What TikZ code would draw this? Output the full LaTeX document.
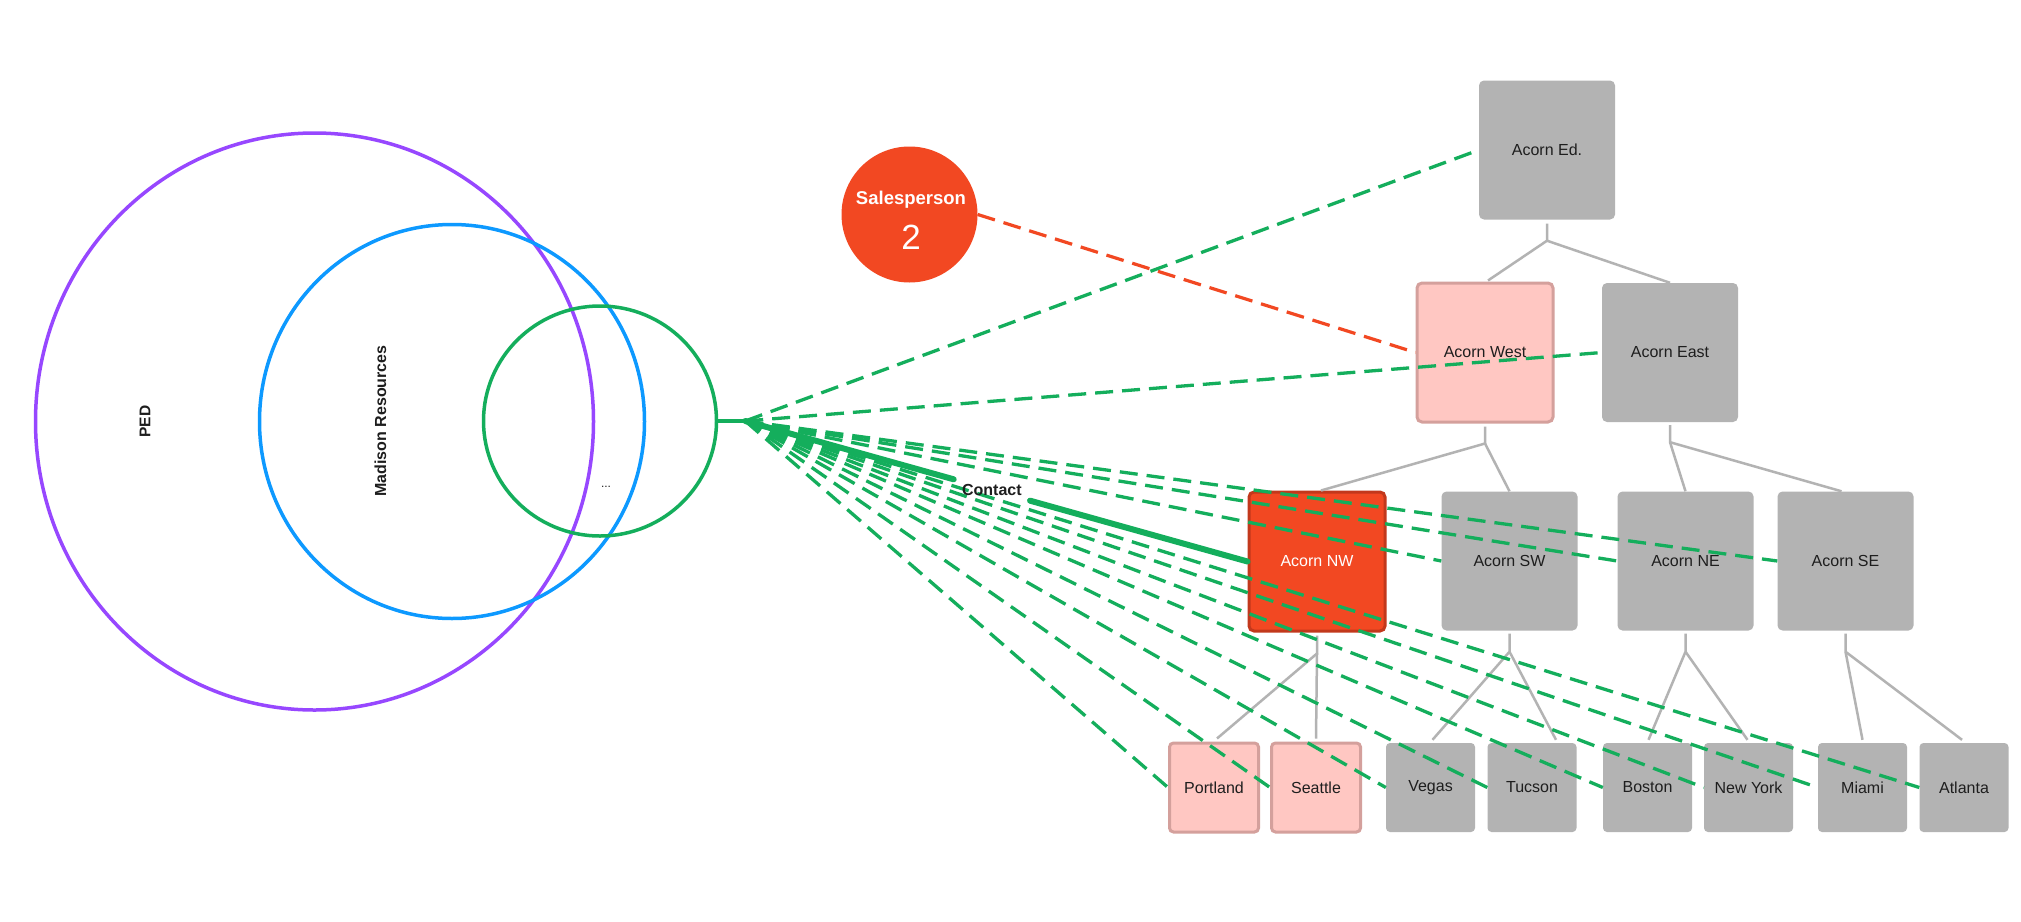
\documentclass[tikz,border=0pt]{standalone}
\usepackage{fontspec}
\setmainfont{Liberation Sans}
\usetikzlibrary{shapes.geometric,calc}
\definecolor{cpurple}{HTML}{9747FF}
\definecolor{cblue}{HTML}{0D99FF}
\definecolor{cgreen}{HTML}{14AE5C}
\definecolor{cred}{HTML}{F24822}
\definecolor{credborder}{HTML}{C2381C}
\definecolor{cgray}{HTML}{B3B3B3}
\definecolor{cpink}{HTML}{FFC7C2}
\definecolor{cpinkborder}{HTML}{D4A09C}
\definecolor{ctext}{HTML}{1E1E1E}
\begin{document}
\begin{tikzpicture}[x=1pt,y=-1pt,
  every node/.style={font=\fontsize{16}{19}\selectfont, text=ctext},
  bigbox/.style={rectangle, rounded corners=5pt, minimum width=136pt, minimum height=139pt, inner sep=0pt, fill=cgray},
  smallbox/.style={rectangle, rounded corners=4pt, minimum width=89pt, minimum height=89pt, inner sep=0pt, fill=cgray},
  pinkb/.style={fill=cpink, draw=cpinkborder, line width=3pt},
  redb/.style={fill=cred, draw=credborder, line width=3pt, text=white},
  treeline/.style={draw=cgray, line width=2.5pt},
  gdash/.style={draw=cgreen, line width=3.3pt, dash pattern=on 18pt off 9pt},
  odash/.style={draw=cred, line width=3.2pt, dash pattern=on 18pt off 9pt},
  contactline/.style={draw=cgreen, line width=6pt, line cap=round},
  ring/.style={ellipse, draw, line width=3.5pt, inner sep=0pt},
  boldlabel/.style={font=\bfseries\fontsize{16}{19}\selectfont},
]
\useasboundingbox (0,0) rectangle (2021,921);
\fill[white] (0,0) rectangle (2021,921);

% sets
\node[ring, draw=cpurple, minimum width=558pt, minimum height=577pt] (ped) at (314.5,421.5) {};
\node[ring, draw=cblue, minimum width=385pt, minimum height=394pt] (mad) at (452,421.5) {};
\node[ring, draw=cgreen, minimum width=233pt, minimum height=230pt] (grp) at (600,421) {};
\node[rotate=90, boldlabel, font=\bfseries\fontsize{15.5}{18}\selectfont] (pedlabel) at (145,421.5) {PED};
\node[rotate=90, boldlabel] (madlabel) at (380.5,421) {Madison Resources};
\node[font=\fontsize{12}{14}\selectfont] (dots) at (606,487) {...};

% salesperson
\node[circle, fill=cred, minimum size=136pt, inner sep=0pt] (sp) at (909.5,214.5) {};
\node[text=white, font=\bfseries\fontsize{18.5}{22}\selectfont] (sptitle) at (911,199.5) {Salesperson};
\node[text=white, font=\fontsize{35}{40}\selectfont] (spnum) at (911,237) {2};

% org tree
\node[bigbox] (ed) at (1547,150) {Acorn Ed.};
\node[bigbox, pinkb] (west) at (1485,352.5) {Acorn West};
\node[bigbox] (east) at (1670,352.5) {Acorn East};
\node[bigbox, redb] (nw) at (1317,561.5) {Acorn NW};
\node[bigbox] (sw) at (1509.5,561) {Acorn SW};
\node[bigbox] (ne) at (1685.5,561) {Acorn NE};
\node[bigbox] (se) at (1845.5,561) {Acorn SE};
\node[smallbox, pinkb] (portland) at (1214,787.5) {Portland};
\node[smallbox, pinkb] (seattle) at (1316,787.5) {Seattle};
\node[smallbox] (vegas) at (1430.5,787.5) {Vegas};
\node[smallbox] (tucson) at (1532,787.5) {Tucson};
\node[smallbox] (boston) at (1647.5,787.5) {Boston};
\node[smallbox] (newyork) at (1748.5,787.5) {New York};
\node[smallbox] (miami) at (1862.5,787.5) {Miami};
\node[smallbox] (atlanta) at (1964,787.5) {Atlanta};

\draw[treeline] ($(ed.south)+(0,4)$) -- ($(ed.south)+(0,21)$) coordinate (jed) -- ($(west.north)+(3,-1)$);
\draw[treeline] (jed) -- (east.north);
\draw[treeline] ($(west.south)+(0,3)$) -- ($(west.south)+(0,20)$) coordinate (jw) -- ($(nw.north)+(4,0)$);
\draw[treeline] (jw) -- (sw.north);
\draw[treeline] ($(east.south)+(0,3)$) -- ($(east.south)+(0,20)$) coordinate (je) -- (ne.north);
\draw[treeline] (je) -- ($(se.north)+(-4,0)$);
\draw[treeline] ($(nw.south)+(0,3)$) -- ($(nw.south)+(0,21)$) coordinate (jnw) -- ($(portland.north)+(3,-3)$);
\draw[treeline] (jnw) -- ($(seattle.north)+(0,-3)$);
\draw[treeline] ($(sw.south)+(0,3)$) -- ($(sw.south)+(0,21)$) coordinate (jsw) -- ($(vegas.north)+(2,-3)$);
\draw[treeline] (jsw) -- ($(tucson.north)+(24,-3)$);
\draw[treeline] ($(ne.south)+(0,3)$) -- ($(ne.south)+(0,21)$) coordinate (jne) -- ($(boston.north)+(1,-3)$);
\draw[treeline] (jne) -- ($(newyork.north)+(-1,-3)$);
\draw[treeline] ($(se.south)+(0,3)$) -- ($(se.south)+(0,21)$) coordinate (jse) -- ($(miami.north)+(0,-3)$);
\draw[treeline] (jse) -- ($(atlanta.north)+(-2,-3)$);

% salesperson link
\draw[odash] (sp.east) -- (west.west);

% contacts
\coordinate (hub) at ($(grp.east)+(27,0)$);
\foreach \t in {ed,east,sw,ne,se,portland,seattle,vegas,tucson,boston,newyork,miami,atlanta}{
  \draw[gdash] (grp.east) -- (hub) -- (\t.west);
}
\draw[cgreen, line width=4pt] (grp.east) -- (hub);
\draw[contactline] (hub) -- ($(hub)!0.415!(nw.west)$) ($(hub)!0.567!(nw.west)$) -- (nw.west);
\node[boldlabel, text=ctext] (contact) at ($(hub)!0.491!(nw.west)$) {Contact};
\end{tikzpicture}
\end{document}
